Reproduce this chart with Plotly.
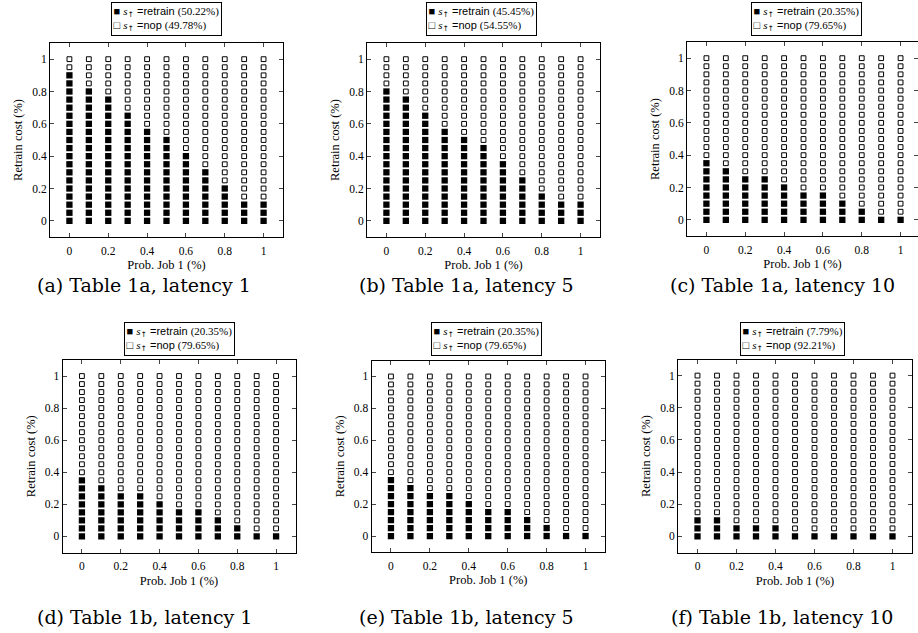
import plotly.graph_objects as go

# ---------------- data ----------------
prob_job1 = [0.0, 0.1, 0.2, 0.3, 0.4, 0.5, 0.6, 0.7, 0.8, 0.9, 1.0]
retrain_cost = [0.0, 0.05, 0.1, 0.15, 0.2, 0.25, 0.3, 0.35, 0.4, 0.45, 0.5,
                0.55, 0.6, 0.65, 0.7, 0.75, 0.8, 0.85, 0.9, 0.95, 1.0]
tick_vals = [0, 0.2, 0.4, 0.6, 0.8, 1]
tick_text = ["0", "0.2", "0.4", "0.6", "0.8", "1"]

# number of cost levels (from 0 upward) where the policy is "retrain", per Prob. Job 1 column
retrain_a = [19, 17, 16, 14, 12, 11, 9, 7, 5, 3, 3]
retrain_b = [17, 16, 14, 12, 11, 10, 8, 6, 4, 3, 3]
retrain_c = [8, 7, 6, 6, 5, 4, 4, 3, 2, 1, 1]
retrain_d = [8, 7, 6, 6, 5, 4, 4, 3, 2, 1, 1]
retrain_e = [8, 7, 6, 6, 5, 4, 4, 3, 2, 1, 1]
retrain_f = [3, 3, 2, 2, 2, 1, 1, 1, 1, 1, 1]

retrain_pct = ["50.22%", "45.45%", "20.35%", "20.35%", "20.35%", "7.79%"]
nop_pct = ["49.78%", "54.55%", "79.65%", "79.65%", "79.65%", "92.21%"]
captions = ["(a) Table 1a, latency 1", "(b) Table 1a, latency 5", "(c) Table 1a, latency 10",
            "(d) Table 1b, latency 1", "(e) Table 1b, latency 5", "(f) Table 1b, latency 10"]

panels = [retrain_a, retrain_b, retrain_c, retrain_d, retrain_e, retrain_f]

# ---------------- layout geometry (pixels) ----------------
W, H = 918, 633
# (left, right, top, bottom, xmax)
boxes = [
    (50, 283, 43, 237, 1.1),
    (367, 600, 43, 237, 1.1),
    (687, 918, 42, 236, 1.0897),
    (62.5, 295.5, 360, 552.5, 1.1),
    (371.5, 605, 360.5, 552, 1.1),
    (678, 912, 359.5, 552.5, 1.1),
]
legend_cx = [166.5, 481, 806, 179, 487, 792]
legend_top = [2, 2, 2, 322, 322, 322]
caption_cx = [144, 466, 782, 144, 466, 782]
caption_cy = [285, 285, 285, 617, 617, 617]

serif = "Liberation Serif"
fig = go.Figure()

for i, counts in enumerate(panels):
    rx, ry, nx, ny = [], [], [], []
    for xv, c in zip(prob_job1, counts):
        for j, yv in enumerate(retrain_cost):
            if j < c:
                rx.append(xv); ry.append(yv)
            else:
                nx.append(xv); ny.append(yv)
    sfx = "" if i == 0 else str(i + 1)
    fig.add_trace(go.Scatter(x=rx, y=ry, mode="markers", xaxis="x" + sfx, yaxis="y" + sfx,
                             marker=dict(symbol="square", size=6.3, color="black", line=dict(width=0)),
                             showlegend=False, name="retrain"))
    fig.add_trace(go.Scatter(x=nx, y=ny, mode="markers", xaxis="x" + sfx, yaxis="y" + sfx,
                             marker=dict(symbol="square", size=4.8, color="white",
                                         line=dict(width=1, color="black")),
                             showlegend=False, name="nop"))

    l, r, t, b, xmax = boxes[i]
    axcommon = dict(showline=True, linecolor="black", linewidth=1, mirror="ticks",
                    ticks="inside", ticklen=4, tickwidth=1, tickcolor="#444",
                    showgrid=False, zeroline=False, tickvals=tick_vals, ticktext=tick_text,
                    tickfont=dict(family=serif, size=11.5, color="black"))
    fig.layout["xaxis" + sfx] = dict(axcommon, domain=[l / W, r / W], range=[-0.1, xmax],
                                     anchor="y" + sfx, ticklabelstandoff=3,
                                     title=dict(text="Prob. Job 1 (%)", standoff=4,
                                                font=dict(family=serif, size=12.5, color="black")))
    fig.layout["yaxis" + sfx] = dict(axcommon, domain=[1 - b / H, 1 - t / H], range=[-0.1, 1.1],
                                     anchor="x" + sfx,
                                     title=dict(text="Retrain cost (%)", standoff=6,
                                                font=dict(family=serif, size=12.5, color="black")))

    sp = "<span style=\"font-family:'Liberation Serif'\">"
    arrow = "<sub><span style=\"font-family:'DejaVu Sans'\">↑</span></sub>"
    txt = ("■ " + sp + "<i>s</i></span>" + arrow + " =retrain " + sp + "(" + retrain_pct[i] + ")</span>"
           + "<br>□ " + sp + "<i>s</i></span>" + arrow + " =nop " + sp + "(" + nop_pct[i] + ")</span>")
    fig.add_annotation(xref="paper", yref="paper", x=legend_cx[i] / W,
                       y=1 - legend_top[i] / H, xanchor="center", yanchor="top",
                       text=txt, showarrow=False, align="left",
                       font=dict(family="Liberation Sans", size=11, color="black"),
                       bordercolor="black", borderwidth=1, borderpad=1.5, bgcolor="white")
    fig.add_annotation(xref="paper", yref="paper", x=caption_cx[i] / W, y=1 - caption_cy[i] / H,
                       xanchor="center", yanchor="middle", text=captions[i], showarrow=False,
                       font=dict(family="DejaVu Serif", size=19, color="black"))

fig.update_layout(width=W, height=H, margin=dict(l=0, r=0, t=0, b=0),
                  paper_bgcolor="white", plot_bgcolor="white", showlegend=False)

fig.write_html("out.html", config={"displayModeBar": False},
               post_script="document.body.style.margin='0';document.body.style.overflow='hidden';")
